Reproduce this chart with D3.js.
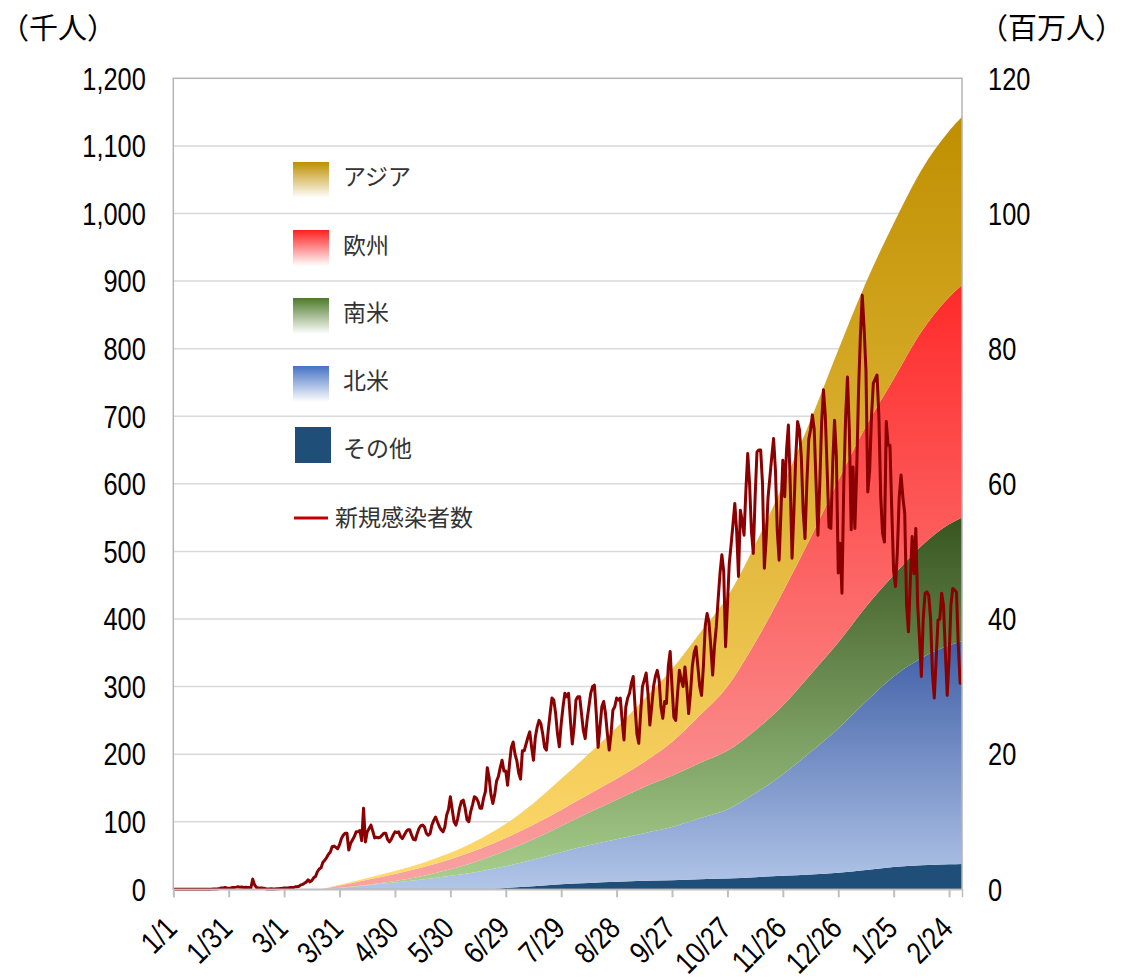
<!DOCTYPE html>
<html><head><meta charset="utf-8">
<script src="https://cdn.jsdelivr.net/npm/d3@7"></script>
<style>
html,body{margin:0;padding:0;background:#fff;}
svg{display:block;}
</style></head>
<body>
<svg id="chart" width="1124" height="978"></svg>
<script>
// ---------- DATA ----------
// region cumulative cases (millions, right axis), sampled at day index from 2020-01-01
const areaDays = [80, 90, 105, 120, 135, 150, 165, 180, 195, 210, 225, 240, 255, 270, 285, 300, 315, 330, 345, 360, 375, 390, 405, 420, 427];
const other    = [0, 0, 0, 0, 0, 0, 0, 0.2, 0.45, 0.75, 0.95, 1.1, 1.25, 1.35, 1.5, 1.6, 1.8, 2.0, 2.2, 2.45, 2.85, 3.3, 3.55, 3.7, 3.75];
const northAm  = [0, 0.2, 0.6, 1.0, 1.45, 2.0, 2.6, 3.2, 3.95, 4.75, 5.55, 6.3, 7.05, 7.85, 9.0, 10.2, 12.4, 15.0, 18.1, 21.35, 24.95, 28.2, 30.65, 32.4, 32.95];
const southAm  = [0, 0.02, 0.08, 0.22, 0.5, 0.95, 1.6, 2.3, 3.0, 3.85, 4.85, 5.85, 6.85, 7.6, 8.2, 8.7, 9.3, 10.2, 11.5, 12.7, 14.0, 15.0, 16.6, 17.9, 18.3];
const europe   = [0, 0.35, 0.75, 1.05, 1.3, 1.5, 1.7, 1.9, 2.15, 2.4, 2.7, 3.1, 3.7, 5.0, 7.0, 9.5, 13.0, 16.8, 20.2, 24.0, 26.7, 29.0, 31.7, 33.6, 34.4];
const asia     = [0, 0.1, 0.25, 0.45, 0.65, 0.95, 1.4, 2.1, 3.2, 4.6, 6.0, 7.6, 9.3, 10.8, 12.2, 13.3, 14.5, 15.8, 17.4, 19.3, 21.3, 23.0, 23.9, 24.6, 24.9];

// daily new cases (thousands, left axis), one value per day from 2020-01-01
const newCases = [
0,0,0,0,0,0,0,0,0,0,
0,0,0,0,0,0,0,0,0.1,0.2,
0.2,0.3,0.5,0.6,0.9,1.3,2.0,2.1,2.6,2.0,
1.7,2.1,2.6,2.8,3.2,3.7,3.2,3.4,2.7,3.0,
2.7,2.5,2.0,15.1,6.5,2.7,2.1,2.0,1.9,1.7,
0.8,0.6,0.6,0.7,0.4,0.6,0.9,0.8,1.2,1.4,
1.8,2.0,1.9,2.5,2.5,2.6,3.6,3.8,4.6,6.5,
7.3,8.9,10.9,14.0,11.0,13.0,17.0,19.0,26.0,30.0,
32,40,43,47,52,55,63,64,62,60,
66,75,80,83,83,58,68,73,78,85,
85,87,72,120,70,85,90,95,86,76,
77,76,77,80,83,83,74,70,74,80,
85,84,85,78,75,80,85,88,88,80,
74,73,82,90,94,95,92,83,80,82,
95,102,107,100,93,88,85,92,110,118,
137,118,100,95,105,120,130,132,120,103,
100,115,125,137,135,130,120,120,135,145,
180,165,140,127,140,160,167,180,191,175,
175,154,185,210,218,200,190,172,163,205,
205,215,225,233,210,191,225,240,250,245,
230,210,206,235,260,283,280,260,230,211,
245,270,290,285,290,250,215,240,280,285,
285,260,235,223,250,270,290,300,302,260,
210,240,270,278,260,230,206,230,265,270,
283,280,283,250,221,270,283,290,305,315,
270,230,216,260,300,310,320,290,243,270,
300,315,324,310,270,253,278,275,330,352,
300,255,250,290,324,310,300,329,300,260,
290,330,350,359,330,300,287,330,390,408,
395,360,317,360,389,430,468,495,470,359,
420,482,510,540,571,530,463,561,545,524,
590,645,600,530,497,580,647,650,650,600,
475,520,580,610,640,667,620,530,487,560,
635,581,650,687,600,490,560,640,692,680,
640,560,519,600,665,680,702,680,600,524,
600,690,739,700,620,536,534,630,694,640,
468,512,438,600,700,758,680,532,625,534,
620,739,820,879,830,768,588,620,700,749,
755,761,700,580,527,514,692,657,657,560,
470,448,500,580,613,580,556,420,381,455,
522,467,534,420,371,315,400,438,440,435,
400,320,283,340,398,400,438,420,350,287,
340,420,445,443,440,360,305,305
];

const tickDays   = [0, 30, 60, 90, 120, 150, 180, 210, 240, 270, 300, 330, 360, 390, 420];
const tickLabels = ["1/1","1/31","3/1","3/31","4/30","5/30","6/29","7/29","8/28","9/27","10/27","11/26","12/26","1/25","2/24"];
const leftTicks  = [0,100,200,300,400,500,600,700,800,900,1000,1100,1200];
const rightTicks = [0,20,40,60,80,100,120];

const seriesKeys  = ["other","northAm","southAm","europe","asia"];
const seriesNames = {asia:"アジア", europe:"欧州", southAm:"南米", northAm:"北米", other:"その他"};
const lineName = "新規感染者数";

// ---------- LAYOUT ----------
const svg = d3.select("#chart");
const L = 173.3, R = 962, T = 78.3, B = 889.3;
const x  = d3.scaleLinear().domain([0, 427]).range([L, R]);
const yL = d3.scaleLinear().domain([0, 1200]).range([B, T]);
const yR = d3.scaleLinear().domain([0, 120]).range([B, T]);

const numFont = "'Liberation Sans',Arial,sans-serif";
const jpFont  = "'Noto Sans CJK JP','Noto Sans',sans-serif";
const narrow = "scale(0.82,1)";

// gradients
const defs = svg.append("defs");
function grad(id, stops){
  const g = defs.append("linearGradient").attr("id", id).attr("x1",0).attr("y1",0).attr("x2",0).attr("y2",1);
  stops.forEach(s => g.append("stop").attr("offset", s[0]).attr("stop-color", s[1]));
}
grad("g-asia",   [[0,"#BF8F00"],[1,"#FFDA6E"]]);
grad("g-europe", [[0,"#FF2A2A"],[1,"#F9A3A3"]]);
grad("g-southAm",[[0,"#385520"],[1,"#AAD190"]]);
grad("g-northAm",[[0,"#3F5EA6"],[1,"#B2C6E8"]]);
grad("l-asia",   [[0,"#BF8F00"],[1,"#FFFFFF"]]);
grad("l-europe", [[0,"#FF2020"],[1,"#FFFFFF"]]);
grad("l-southAm",[[0,"#4E7A2A"],[1,"#FFFFFF"]]);
grad("l-northAm",[[0,"#4472C4"],[1,"#FFFFFF"]]);
const fills = {asia:"url(#g-asia)", europe:"url(#g-europe)", southAm:"url(#g-southAm)", northAm:"url(#g-northAm)", other:"#1F4E79"};
const legendFills = {asia:"url(#l-asia)", europe:"url(#l-europe)", southAm:"url(#l-southAm)", northAm:"url(#l-northAm)", other:"#1F4E79"};

// gridlines
svg.append("g").selectAll("line").data(leftTicks.filter(d=>d>0 && d<1200)).join("line")
  .attr("x1", L).attr("x2", R).attr("y1", d=>yL(d)).attr("y2", d=>yL(d))
  .attr("stroke", "#D9D9D9").attr("stroke-width", 1.5);

// stacked areas
const table = areaDays.map((d,i)=>({day:d, other:other[i], northAm:northAm[i], southAm:southAm[i], europe:europe[i], asia:asia[i]}));
const stacked = d3.stack().keys(seriesKeys)(table);
const area = d3.area().x(d=>x(d.data.day)).y0(d=>yR(d[0])).y1(d=>yR(d[1])).curve(d3.curveMonotoneX);
svg.append("g").selectAll("path").data(stacked).join("path")
  .attr("d", area).attr("fill", d=>fills[d.key]);

// new cases line
const line = d3.line().x((d,i)=>x(i)).y(d=>yL(d));
svg.append("path").datum(newCases).attr("d", line)
  .attr("fill","none").attr("stroke","#8B0000").attr("stroke-width",3).attr("stroke-linejoin","round");

// frame
svg.append("rect").attr("x",L).attr("y",T).attr("width",R-L).attr("height",B-T)
  .attr("fill","none").attr("stroke","#B4B4B4").attr("stroke-width",1.5);

// left axis
const gl = svg.append("g").attr("transform",`translate(${L-25},0)`)
  .call(d3.axisLeft(yL).tickValues(leftTicks).tickFormat(d3.format(",")).tickSize(0));
gl.select(".domain").remove();
gl.selectAll("text").attr("font-family",numFont).attr("font-size",31).attr("fill","#000").attr("dy","0.35em").attr("transform",narrow);

// right axis
const gr = svg.append("g").attr("transform",`translate(${R+26},0)`)
  .call(d3.axisRight(yR).tickValues(rightTicks).tickSize(0));
gr.select(".domain").remove();
gr.selectAll("text").attr("font-family",numFont).attr("font-size",31).attr("fill","#000").attr("dy","0.35em").attr("x",0).attr("transform",narrow);

// bottom axis
const gb = svg.append("g").attr("transform",`translate(0,${B})`)
  .call(d3.axisBottom(x).tickValues(tickDays).tickSize(8).tickFormat((d,i)=>tickLabels[i]));
gb.select(".domain").attr("stroke","#BFBFBF").attr("stroke-width",1.5);
gb.selectAll(".tick line").attr("stroke","#BFBFBF").attr("stroke-width",2);
gb.selectAll("text").attr("font-family",numFont).attr("font-size",31).attr("fill","#000")
  .attr("text-anchor","end").attr("dy",null).attr("y",null)
  .attr("transform","translate(5,41) rotate(-45) scale(0.82,1)");

// axis titles
svg.append("text").attr("x",0).attr("y",39).attr("font-family",jpFont).attr("font-size",29).attr("fill","#000").text("（千人）");
svg.append("text").attr("x",1124).attr("y",39).attr("text-anchor","end").attr("font-family",jpFont).attr("font-size",29).attr("fill","#000").text("（百万人）");

// legend
const legendItems = ["asia","europe","southAm","northAm","other"];
const swY  = [180, 248, 316, 384, 445];
const txtY = [177, 246, 313, 381, 449];
const lg = svg.append("g");
legendItems.forEach((k,i)=>{
  const sx = k==="other" ? 295 : 293;
  lg.append("rect").attr("x",sx).attr("y",swY[i]-18).attr("width",36).attr("height",36).attr("fill",legendFills[k]);
  lg.append("text").attr("x",343).attr("y",txtY[i]).attr("dy","0.35em").attr("font-family",jpFont).attr("font-size",23).attr("fill","#333").text(seriesNames[k]);
});
lg.append("line").attr("x1",294).attr("x2",328).attr("y1",518).attr("y2",518).attr("stroke","#C00000").attr("stroke-width",3);
lg.append("text").attr("x",335).attr("y",518).attr("dy","0.35em").attr("font-family",jpFont).attr("font-size",23).attr("fill","#333").text(lineName);
</script>
</body></html>
